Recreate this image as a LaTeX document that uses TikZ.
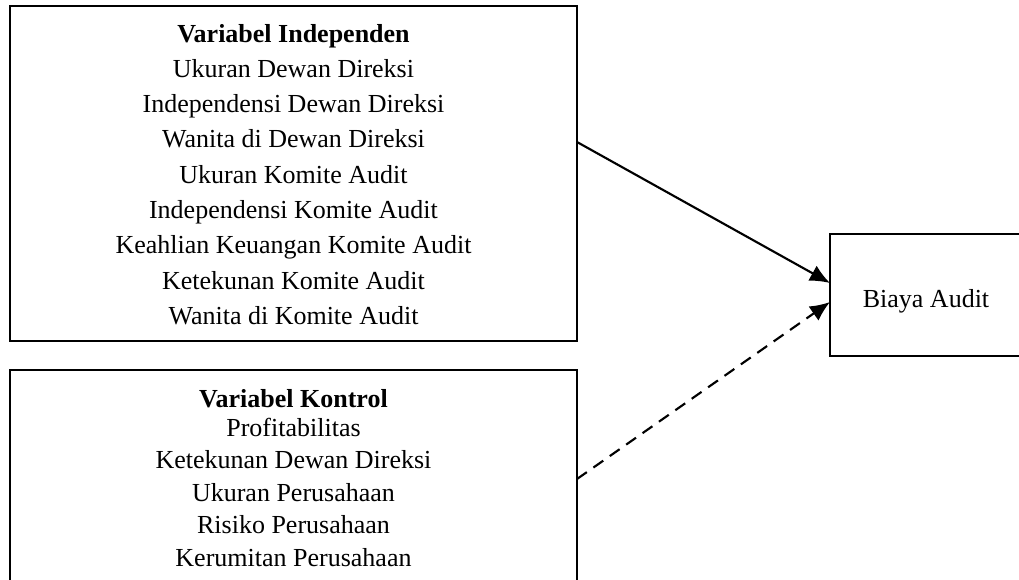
\documentclass[tikz,border=0pt]{standalone}
\usepackage{fontspec}
\setmainfont{Liberation Serif}
\usetikzlibrary{arrows.meta,calc}
\begin{document}
\begin{tikzpicture}[x=0.75pt,y=-0.75pt,
  box/.style={draw, line width=1.5pt, inner sep=0pt, outer sep=0pt},
  txt/.style={font=\fontsize{19.5}{24}\selectfont, anchor=base, inner sep=0pt},
  ttl/.style={txt, font=\fontsize{19.5}{24}\selectfont\bfseries},
  conn/.style={line width=1.6pt, -{Latex[length=15pt,width=13pt]}}]
\useasboundingbox (0,0) rectangle (1019,579);
\begin{scope}
\clip (0,0) rectangle (1019,579);
\node[box, minimum width=425.25pt, minimum height=251.25pt] (b1) at (293.5,173.5) {};
\node[box, minimum width=425.25pt, minimum height=172.5pt] (b2) at (293.5,485) {};
\node[box, minimum width=144pt, minimum height=91.5pt] (b3) at (926,295) {};
\end{scope}
\node[ttl] (t1) at (293.5,42) {Variabel Independen};
\foreach \s [count=\k] in {Ukuran Dewan Direksi, Independensi Dewan Direksi, Wanita di Dewan Direksi, Ukuran Komite Audit, Independensi Komite Audit, Keahlian Keuangan Komite Audit, Ketekunan Komite Audit, Wanita di Komite Audit}
  \node[txt] (i\k) at (293.5,{42+35.3*\k}) {\s};
\node[ttl] (t2) at (293.5,407) {Variabel Kontrol};
\node[txt] (c1) at (293.5,436) {Profitabilitas};
\foreach \s [count=\k] in {Ketekunan Dewan Direksi, Ukuran Perusahaan, Risiko Perusahaan, Kerumitan Perusahaan}
  \node[txt] (c\k x) at (293.5,{436+32.5*\k}) {\s};
\node[txt] (t3) at (926,307) {Biaya Audit};
\coordinate (s1) at ($(b1.north east)+(0,136)$);
\coordinate (e1) at ($(b3.north west)+(0,49)$);
\coordinate (s2) at ($(b2.north east)+(0,109)$);
\coordinate (e2) at ($(b3.north west)+(0,68)$);
\draw[conn] (s1) -- (e1);
\draw[conn, dash pattern=on 9pt off 6pt] (s2) -- (e2);
\end{tikzpicture}
\end{document}
